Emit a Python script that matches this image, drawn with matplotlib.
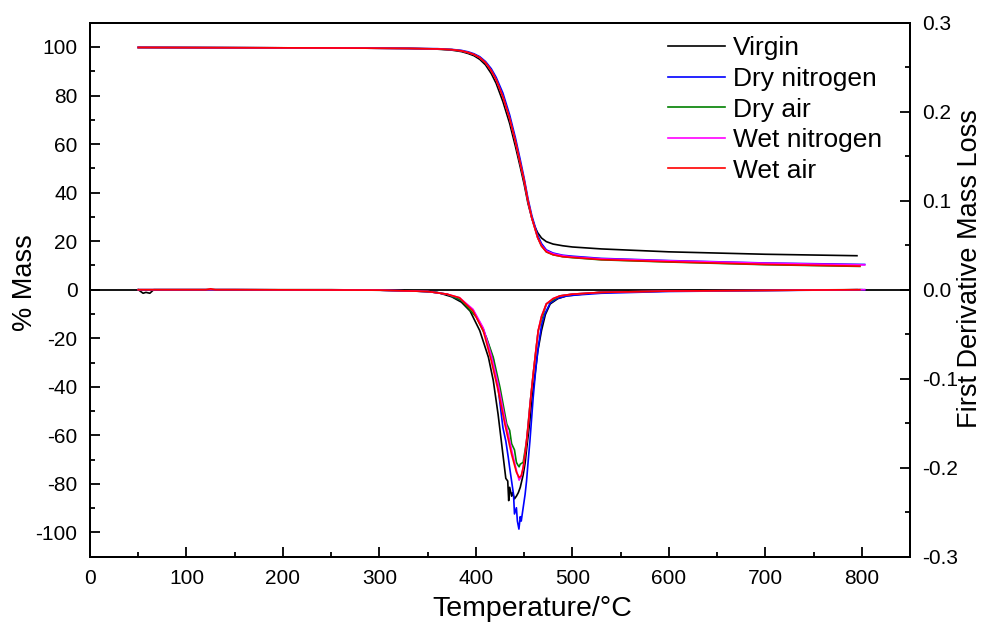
import matplotlib
matplotlib.use("Agg")
import matplotlib.pyplot as plt
from matplotlib.ticker import MultipleLocator, FormatStrFormatter

plt.rcParams['font.family'] = ['Liberation Sans', 'DejaVu Sans']
plt.rcParams['axes.unicode_minus'] = False

labels = ["Virgin", "Dry nitrogen", "Dry air", "Wet nitrogen", "Wet air"]
colors = ["#000000", "#0000ff", "#008000", "#ff00ff", "#ff0000"]

# % mass (TGA) curves
tga_t = [50, 150, 250, 330, 360, 375, 385, 392, 398, 404, 410, 416, 421, 428, 435, 441, 446, 450, 454, 458, 461, 464, 468, 473, 480, 490, 500, 530, 600, 700]
tga_virgin_m = [99.8, 99.7, 99.6, 99.4, 99.1, 98.7, 98.1, 97.3, 96.4, 94.9, 92.6, 89.0, 85.0, 77.5, 68.5, 59.0, 50.5, 43.5, 35.5, 29.5, 26.0, 23.5, 21.3, 19.8, 18.8, 18.1, 17.6, 16.8, 15.6, 14.6]
tga_drn2_m = [99.8, 99.7, 99.6, 99.4, 99.3, 99.0, 98.6, 98.0, 97.2, 96.0, 94.0, 91.0, 87.5, 81.0, 72.0, 62.5, 53.5, 46.0, 37.5, 30.5, 26.5, 22.5, 19.0, 16.4, 15.1, 14.2, 13.8, 12.9, 12.0, 11.0]
tga_dryair_m = [99.8, 99.7, 99.6, 99.4, 99.2, 98.9, 98.4, 97.7, 96.9, 95.6, 93.5, 90.2, 86.5, 79.5, 70.5, 61.0, 52.0, 45.0, 36.5, 29.5, 25.5, 21.5, 18.0, 15.6, 14.4, 13.6, 13.2, 12.3, 11.4, 10.3]
tga_wetn2_m = [99.8, 99.7, 99.6, 99.4, 99.2, 98.9, 98.4, 97.7, 96.9, 95.6, 93.5, 90.2, 86.5, 79.5, 70.5, 61.0, 52.0, 45.0, 36.5, 29.5, 25.5, 21.5, 18.2, 16.0, 14.8, 14.0, 13.5, 12.7, 11.9, 10.9]
tga_wetair_m = [99.8, 99.7, 99.6, 99.4, 99.2, 98.9, 98.4, 97.7, 96.9, 95.6, 93.5, 90.2, 86.5, 79.5, 70.5, 61.0, 52.0, 45.0, 36.5, 29.5, 25.5, 21.5, 18.0, 15.6, 14.4, 13.6, 13.3, 12.4, 11.5, 10.4]
tga_end_t = [795, 803, 798, 803, 798]
tga_end_m = [14.0, 10.4, 9.6, 10.2, 9.7]

# first derivative curves
dtg_virgin_t = [50, 55, 58, 62, 66, 80, 150, 250, 330, 360, 375, 385, 394, 404, 413, 418, 423, 428, 431, 433, 434, 435, 437, 438, 440, 442, 444, 446, 449, 451, 453, 456, 458, 461, 464, 468, 472, 477, 485, 494, 510, 528, 600, 700, 795]
dtg_virgin_v = [0, -0.004, -0.003, -0.004, 0, 0, 0, 0, -0.001, -0.003, -0.008, -0.014, -0.024, -0.046, -0.076, -0.102, -0.14, -0.185, -0.212, -0.215, -0.237, -0.222, -0.232, -0.228, -0.235, -0.232, -0.228, -0.222, -0.208, -0.195, -0.175, -0.147, -0.122, -0.098, -0.07, -0.046, -0.028, -0.016, -0.01, -0.007, -0.005, -0.003, -0.001, -0.0005, 0]

dtg_drn2_t = [50, 150, 300, 350, 370, 385, 397, 408, 418, 423, 428, 431, 433.5, 435, 437, 439, 440, 442, 443, 444.6, 446, 447, 449, 451, 452.5, 454, 456, 459.4, 462, 464.6, 468, 471.5, 477, 484, 494, 504, 530, 600, 700, 803]
dtg_drn2_v = [0, 0, -0.0005, -0.002, -0.005, -0.012, -0.023, -0.045, -0.078, -0.11, -0.155, -0.17, -0.188, -0.2, -0.215, -0.23, -0.252, -0.245, -0.26, -0.269, -0.255, -0.26, -0.245, -0.23, -0.215, -0.195, -0.17, -0.121, -0.09, -0.065, -0.04, -0.027, -0.015, -0.01, -0.007, -0.006, -0.004, -0.002, -0.001, 0]

dtg_dryair_t = [50, 150, 300, 350, 370, 385, 400.6, 411, 418, 425, 432, 435, 437, 440, 442, 443.5, 444.8, 446, 449, 452.5, 456, 459.4, 464.6, 473, 487, 500, 530, 600, 700, 800]
dtg_dryair_v = [0, 0, -0.0005, -0.002, -0.005, -0.012, -0.031, -0.054, -0.076, -0.11, -0.151, -0.158, -0.173, -0.18, -0.194, -0.197, -0.199, -0.196, -0.194, -0.17, -0.13, -0.095, -0.046, -0.016, -0.007, -0.005, -0.003, -0.0015, -0.0008, 0]

dtg_wetn2_t = [50, 150, 300, 350, 370, 383, 397, 407.6, 416, 423, 430, 437, 442, 444.8, 447, 449, 451.5, 454, 456.5, 459.4, 462, 464.6, 468, 473, 480, 487, 500, 530, 600, 700, 803]
dtg_wetn2_v = [0, 0, -0.0005, -0.002, -0.005, -0.009, -0.022, -0.043, -0.074, -0.106, -0.145, -0.18, -0.203, -0.214, -0.21, -0.2, -0.18, -0.155, -0.125, -0.095, -0.07, -0.046, -0.03, -0.016, -0.01, -0.007, -0.005, -0.003, -0.0015, -0.0008, 0]

dtg_wetair_t = [50, 120, 125, 130, 150, 300, 350, 370, 383, 397, 407.6, 416, 423, 430, 437, 442, 444.8, 447, 449, 451.5, 454, 456.5, 459.4, 462, 464.6, 468, 473, 480, 487, 500, 530, 600, 700, 798]
dtg_wetair_v = [0, 0, 0.001, 0, 0, -0.0005, -0.002, -0.005, -0.009, -0.024, -0.046, -0.08, -0.113, -0.151, -0.185, -0.205, -0.211, -0.209, -0.2, -0.18, -0.155, -0.125, -0.095, -0.07, -0.046, -0.03, -0.016, -0.01, -0.007, -0.005, -0.003, -0.0015, -0.0008, 0]

tga_m = [tga_virgin_m, tga_drn2_m, tga_dryair_m, tga_wetn2_m, tga_wetair_m]
dtg_t = [dtg_virgin_t, dtg_drn2_t, dtg_dryair_t, dtg_wetn2_t, dtg_wetair_t]
dtg_v = [dtg_virgin_v, dtg_drn2_v, dtg_dryair_v, dtg_wetn2_v, dtg_wetair_v]

fig = plt.figure(figsize=(9.87, 6.36), dpi=100)
ax = fig.add_axes([0.0912, 0.1247, 0.8308, 0.8396])
ax2 = ax.twinx()

ax.axhline(0, color="black", lw=1.3, zorder=1)

for i in range(5):
    ax.plot(tga_t + [tga_end_t[i]], tga_m[i] + [tga_end_m[i]], color=colors[i], lw=1.2, label=labels[i])
    ax2.plot(dtg_t[i], dtg_v[i], color=colors[i], lw=1.2)

ax.set_xlim(0, 850)
ax.set_ylim(-110, 110)
ax2.set_ylim(-0.3, 0.3)

ax.xaxis.set_major_locator(MultipleLocator(100))
ax.xaxis.set_minor_locator(MultipleLocator(50))
ax.yaxis.set_major_locator(MultipleLocator(20))
ax.yaxis.set_minor_locator(MultipleLocator(10))
ax2.yaxis.set_major_locator(MultipleLocator(0.1))
ax2.yaxis.set_minor_locator(MultipleLocator(0.05))
ax2.yaxis.set_major_formatter(FormatStrFormatter("%.1f"))

for a in (ax, ax2):
    a.tick_params(which="major", direction="in", length=7, width=1.3, labelsize=15, pad=9)
    a.tick_params(which="minor", direction="in", length=3.8, width=1.3)
    for s in a.spines.values():
        s.set_linewidth(1.4)
ax.tick_params(top=False, right=False, which="both")

ax.set_xlabel("Temperature/°C", fontsize=20.5)
ax.xaxis.set_label_coords(0.539, -0.074)
ax.set_ylabel("% Mass", fontsize=19.5)
ax.yaxis.set_label_coords(-0.064, 0.513)
ax2.set_ylabel("First Derivative Mass Loss", fontsize=19.5)
ax2.yaxis.set_label_coords(1.057, 0.54)

ax.legend(loc="upper left", bbox_to_anchor=(0.705, 0.9745), frameon=False, fontsize=19,
          borderaxespad=0, borderpad=0, handlelength=2.16, handletextpad=0.3, labelspacing=0.25)

plt.savefig("out.png", dpi=100)
plt.close()
